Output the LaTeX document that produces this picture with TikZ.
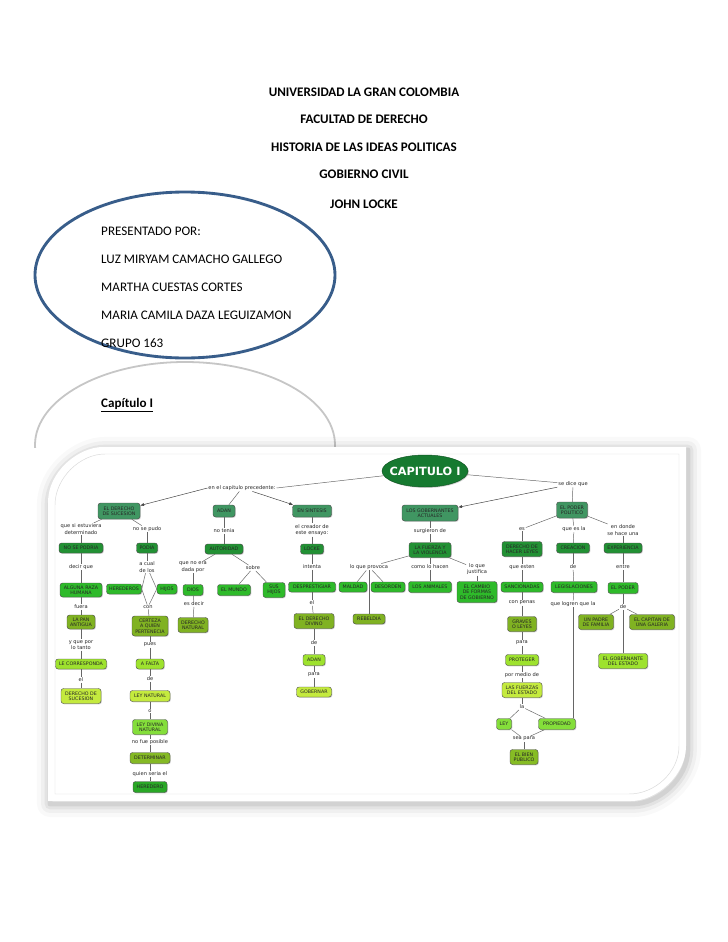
\documentclass[tikz,border=0pt]{standalone}
\usepackage{fontspec}
\setmainfont{Carlito}
\newfontfamily\mapfont{DejaVu Sans}
\usetikzlibrary{shadows,arrows.meta,shapes.geometric}
\definecolor{ellblue}{RGB}{56,93,138}
\definecolor{gteal}{RGB}{64,150,98}
\definecolor{gdark}{RGB}{34,145,52}
\definecolor{gbright}{RGB}{46,186,42}
\definecolor{golive}{RGB}{128,178,34}
\definecolor{glime}{RGB}{158,226,46}
\definecolor{gyellow}{RGB}{196,234,62}
\definecolor{gmint}{RGB}{132,222,58}
\definecolor{gcap}{RGB}{22,122,48}
\begin{document}
\begin{tikzpicture}[x=0.8407pt, y=-0.8407pt,
    head/.style={font=\fontsize{11}{13}\selectfont\bfseries},
    namet/.style={anchor=west, inner sep=0pt, font=\fontsize{11}{13}\selectfont},
    box/.style={rounded corners=2.2pt, draw=black!70, line width=0.35pt, text=black!85,
        font=\mapfont\fontsize{4}{4.5}\selectfont, align=center, inner xsep=1.5pt, inner ysep=1pt,
        minimum height=10*0.8407pt, drop shadow={shadow xshift=0.7pt, shadow yshift=-0.7pt, opacity=0.35}},
    wd/.style={minimum width=#1*0.8407pt},
    ht/.style={minimum height=#1*0.8407pt},
    sucbox/.style={box, fill=gteal},
    darkbox/.style={box, fill=gdark},
    brightbox/.style={box, fill=gbright},
    olivebox/.style={box, fill=golive},
    limebox/.style={box, fill=glime},
    yelbox/.style={box, fill=gyellow},
    mintbox/.style={box, fill=gmint},
    lab/.style={font=\mapfont\fontsize{4.3}{5.2}\selectfont, align=center, inner sep=0.6pt, text=black!85},
    link/.style={draw=black!60, line width=0.4pt},
    arr/.style={draw=black!75, line width=0.4pt, -{Latex[length=3.2pt, width=2.6pt]}}
]
\useasboundingbox[fill=white] (0,0) rectangle (728,942);

% title lines
\foreach \yy/\txt [count=\i] in {92/UNIVERSIDAD LA GRAN COLOMBIA, 119/FACULTAD DE DERECHO,
    147/HISTORIA DE LAS IDEAS POLITICAS, 174/GOBIERNO CIVIL, 204/JOHN LOCKE}
    \node[head] (head\i) at (364,\yy) {\txt};

% authors in the blue ellipse, and its grey reflection
\begin{scope}
    \clip (0,350) rectangle (728,447);
    \draw[gray!45, line width=1.5pt] (185,445) ellipse [x radius=150, y radius=83];
\end{scope}
\draw[ellblue, line width=2.4pt] (185,275) ellipse [x radius=150, y radius=83];
\foreach \yy/\txt [count=\i] in {231/PRESENTADO POR:, 259/LUZ MIRYAM CAMACHO GALLEGO,
    287/MARTHA CUESTAS CORTES, 315/MARIA CAMILA DAZA LEGUIZAMON, 343/GRUPO 163}
    \node[namet] (name\i) at (101,\yy) {\txt};
\node[namet, anchor=base west, font=\fontsize{11}{13}\selectfont\bfseries] (capt) at (101,407.5) {\underline{Capítulo I}};

% the card behind the map
\begin{scope}[shift={(2,3)}]
    \foreach \lw/\op in {22/0.025, 15/0.035, 9/0.05, 4/0.07}
        \draw[black, opacity=\op, line width=\lw pt, line join=round] (48,801) -- (48,502) .. controls (48,472) and (78,447) .. (103,447) -- (686,447) -- (686,746) .. controls (686,776) and (656,801) .. (631,801) -- cycle;
\end{scope}
\fill[white] (48,801) -- (48,502) .. controls (48,472) and (78,447) .. (103,447) -- (686,447) -- (686,746) .. controls (686,776) and (656,801) .. (631,801) -- cycle;
\draw[gray!30, line width=0.4pt] (55,794) -- (55,505) .. controls (55,478) and (80,454) .. (105,454) -- (679,454) -- (679,746) .. controls (679,772) and (655,794) .. (629,794) -- cycle;

% top of the map
\node[ellipse, fill=gcap, draw=gcap!70!black, line width=0.4pt, text=white, font=\mapfont\bfseries\fontsize{9.5}{11}\selectfont,
    inner xsep=-6pt, inner ysep=2pt, wd=86, ht=32, drop shadow={shadow xshift=0.8pt, shadow yshift=-0.8pt, opacity=0.35}]
    (cap) at (425,471) {CAPITULO I};
\node[lab] (lprec) at (242,488) {en el capitulo precedente:};
\node[lab] (ldice) at (573,484) {se dice que};

% first level
\node[sucbox, wd=42, ht=16] (suc) at (119,511) {EL DERECHO\\DE SUCESION};
\node[sucbox, wd=22, ht=12] (adan) at (224,511) {ADAN};
\node[sucbox, wd=39, ht=12] (sint) at (312,511) {EN SINTESIS};
\node[sucbox, wd=56, ht=16] (gob) at (430,513) {LOS GOBERNANTES\\ACTUALES};
\node[sucbox, wd=31, ht=16] (pol) at (572,510) {EL PODER\\POLITICO};

\node[lab] (l1) at (81,529) {que si estuviera\\determinado};
\node[lab] (l2) at (147,529) {no se pudo};
\node[lab] (l3) at (224,531) {no tenia};
\node[lab] (l4) at (312,530) {el creador de\\este ensayo:};
\node[lab] (l5) at (430,531) {surgieron de};
\node[lab] (l6) at (522,529) {es};
\node[lab] (l7) at (574,529) {que es la};
\node[lab] (l8) at (623,530) {en donde\\se hace una};

\node[darkbox, wd=44] (nopod) at (81,548) {NO SE PODRIA};
\node[darkbox, wd=21] (podia) at (147,548) {PODIA};
\node[darkbox, wd=38] (auto) at (224,549) {AUTORIDAD};
\node[darkbox, wd=23] (locke) at (312,549) {LOCKE};
\node[darkbox, wd=42, ht=15] (fuer) at (430,550) {LA FUERZA Y\\LA VIOLENCIA};
\node[darkbox, wd=40, ht=15] (hacer) at (522,549) {DERECHO DE\\HACER LEYES};
\node[darkbox, wd=33] (crea) at (573,548) {CREACION};
\node[darkbox, wd=38] (expe) at (623,548) {EXPERIENCIA};

\node[lab] (m1) at (81,567) {decir que};
\node[lab] (m2) at (147,567) {a cual\\de los};
\node[lab] (m3) at (193,567) {que no era\\dada por};
\node[lab] (m4) at (253,568) {sobre};
\node[lab] (m5) at (312,567) {intenta};
\node[lab] (m6) at (369,567) {lo que provoca};
\node[lab] (m7) at (430,567) {como lo hacen};
\node[lab] (m8) at (477,569) {lo que\\justifica};
\node[lab] (m9) at (522,567) {que esten};
\node[lab] (m10) at (573,567) {de};
\node[lab] (m11) at (623,567) {entre};

\node[brightbox, wd=42, ht=14] (raza) at (81,590) {ALGUNA RAZA\\HUMANA};
\node[brightbox, wd=35] (here) at (124,589) {HEREDEROS};
\node[brightbox, wd=20] (hijos) at (167,589) {HIJOS};
\node[brightbox, wd=20, ht=11] (dios) at (193,590) {DIOS};
\node[brightbox, wd=33, ht=11] (mundo) at (234,590) {EL MUNDO};
\node[brightbox, wd=22, ht=15] (shijos) at (274,590) {SUS\\HIJOS};
\node[brightbox, wd=47] (despr) at (312,587) {DESPRESTIGIAR};
\node[brightbox, wd=28] (mald) at (353,587) {MALDAD};
\node[brightbox, wd=34] (deso) at (388,587) {DESORDEN};
\node[brightbox, wd=43, ht=11] (anim) at (430,587) {LOS ANIMALES};
\node[brightbox, wd=40, ht=21] (camb) at (477,592) {EL CAMBIO\\DE FORMAS\\DE GOBIERNO};
\node[brightbox, wd=42] (sanc) at (522,587) {SANCIONADAS};
\node[brightbox, wd=46, ht=11] (legi) at (574,587) {LEGISLACIONES};
\node[brightbox, wd=30, ht=11] (epod) at (623,588) {EL PODER};

\node[lab] (n1) at (81,607) {fuera};
\node[lab] (n2) at (148,607) {con};
\node[lab] (n3) at (194,604) {es decir};
\node[lab] (n4) at (312,603) {el};
\node[lab] (n5) at (522,603) {con penas};
\node[lab] (n6) at (573,604) {que logren que la};
\node[lab] (n7) at (623,607) {de};

\node[olivebox, wd=28, ht=14] (pan) at (81,622) {LA PAN\\ANTIGUA};
\node[olivebox, wd=36, ht=20] (cert) at (150,626) {CERTEZA\\A QUIEN\\PERTENECIA};
\node[olivebox, wd=30, ht=15] (dnat) at (193,625) {DERECHO\\NATURAL};
\node[olivebox, wd=40, ht=15] (ddiv) at (314,621) {EL DERECHO\\DIVINO};
\node[olivebox, wd=32] (rebe) at (369,619) {REBELDIA};
\node[olivebox, wd=29, ht=15] (grav) at (522,624) {GRAVES\\O LEYES};
\node[olivebox, wd=35, ht=15] (padre) at (596,622) {UN PADRE\\DE FAMILIA};
\node[olivebox, wd=45, ht=15] (capi) at (652,622) {EL CAPITAN DE\\UNA GALERIA};

\node[lab] (o1) at (81,645) {y que por\\lo tanto};
\node[lab] (o2) at (150,645) {pues};
\node[lab] (o3) at (314,643) {de};
\node[lab] (o4) at (522,643) {para};

\node[limebox, wd=51] (corr) at (81,664) {LE CORRESPONDA};
\node[limebox, wd=28] (falta) at (150,664) {A FALTA};
\node[limebox, wd=22, ht=11] (adan2) at (314,660) {ADAN};
\node[limebox, wd=33, ht=11] (prot) at (522,660) {PROTEGER};
\node[limebox, wd=49, ht=15] (gobe) at (623,661) {EL GOBERNANTE\\DEL ESTADO};

\node[lab] (p1) at (81,680) {el};
\node[lab] (p2) at (150,679) {de};
\node[lab] (p3) at (314,675) {para};
\node[lab] (p4) at (522,675) {por medio de};

\node[yelbox, wd=40, ht=15] (dsuc) at (81,696) {DERECHO DE\\SUCESION};
\node[yelbox, wd=40, ht=11] (lnat) at (150,696) {LEY NATURAL};
\node[yelbox, wd=35] (gobr) at (314,692) {GOBERNAR};
\node[yelbox, wd=40, ht=15] (fest) at (522,690) {LAS FUERZAS\\DEL ESTADO};

\node[lab] (q1) at (150,711) {o};
\node[lab] (q2) at (522,707) {la};

\node[mintbox, wd=35, ht=15] (ldiv) at (150,727) {LEY DIVINA\\NATURAL};
\node[mintbox, wd=15, ht=11] (ley) at (504,724) {LEY};
\node[mintbox, wd=37, ht=11] (prop) at (557,724) {PROPIEDAD};

\node[lab] (r1) at (150,742) {no fue posible};
\node[lab] (r2) at (524,739) {sea para};

\node[box, fill=golive!85!glime, wd=40, ht=11] (dete) at (150,758) {DETERMINAR};
\node[box, fill=golive!80!glime, wd=28, ht=15] (bien) at (524,757) {EL BIEN\\PUBLICO};
\node[lab] (s1) at (150,774) {quien seria el};
\node[box, fill=gbright!90!black, wd=34, ht=11] (hered) at (150,787) {HEREDERO};

% connectors
\draw[link] (cap) -- (lprec.east);
\draw[arr] (lprec.west) -- (suc);
\draw[link] (lprec) -- (adan);
\draw[arr] (lprec) -- (sint);
\draw[link] (cap) -- (ldice);
\draw[arr] (ldice) -- (gob);
\draw[link] (ldice) -- (pol);
\foreach \a/\b in {suc/l1, l1/nopod, nopod/m1, m1/raza, raza/n1, n1/pan, pan/o1, o1/corr, corr/p1, p1/dsuc,
    suc/l2, l2/podia, podia/m2, n2/cert, cert/o2, o2/falta, falta/p2, p2/lnat, lnat/q1, q1/ldiv, ldiv/r1, r1/dete, dete/s1, s1/hered,
    adan/l3, l3/auto, auto/m3, m3/dios, dios/n3, n3/dnat, auto/m4, m4/mundo, m4/shijos,
    sint/l4, l4/locke, locke/m5, m5/despr, despr/n4, n4/ddiv, ddiv/o3, o3/adan2, adan2/p3, p3/gobr,
    gob/l5, l5/fuer, fuer/m6, fuer/m7, fuer/m8, m6/mald, m6/deso, m6/rebe, m7/anim, m8/camb,
    pol/l6, l6/hacer, hacer/m9, m9/sanc, sanc/n5, n5/grav, grav/o4, o4/prot, prot/p4, p4/fest, fest/q2,
    q2/ley, q2/prop, ley/r2, prop/r2, r2/bien,
    pol/l7, l7/crea, crea/m10, m10/legi, legi/n6,
    pol/l8, l8/expe, expe/m11, m11/epod, epod/n7, n7/padre, n7/capi, n7/gobe}
    \draw[link] (\a) -- (\b);
\draw[link] (m2) -- (here.east);
\draw[link] (here.east) -- (n2);
\draw[link] (m2) -- (hijos.west);
\draw[link] (hijos.west) -- (n2);
\draw[link] (n6.south) -- (n6.south |- prop.north);
\end{tikzpicture}
\end{document}
